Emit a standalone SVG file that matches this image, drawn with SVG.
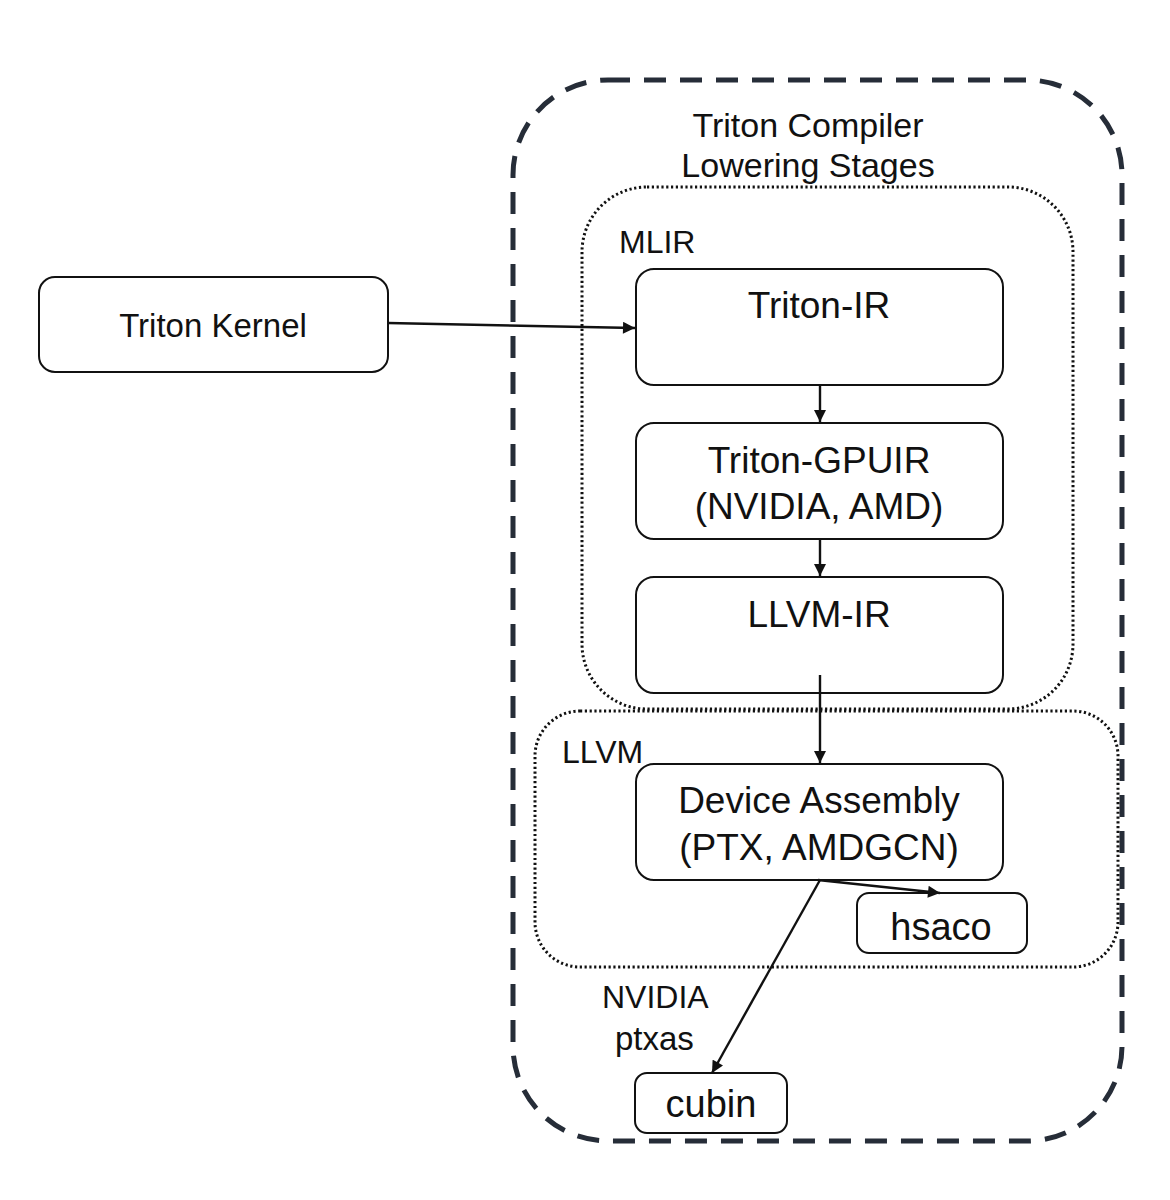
<svg xmlns="http://www.w3.org/2000/svg" width="1170" height="1200" viewBox="0 0 1170 1200">
<defs>
<style>
.box{fill:#fff;stroke:#111;stroke-width:2}
.t{font-family:"Liberation Sans",Arial,sans-serif;fill:#111;text-anchor:middle}
.l{font-family:"Liberation Sans",Arial,sans-serif;fill:#111}
.outer{fill:none;stroke:#262d38;stroke-width:5;stroke-dasharray:22 14}
.dot{fill:none;stroke:#111;stroke-width:3;stroke-dasharray:2.2 2.6}
.c{fill:none;stroke:#111;stroke-width:2.4}
</style>
<marker id="ah" viewBox="0 0 10 10" refX="10" refY="5" markerWidth="13" markerHeight="12" markerUnits="userSpaceOnUse" orient="auto">
<path d="M0,0 L10,5 L0,10 z" fill="#111"/>
</marker>
</defs>
<rect width="1170" height="1200" fill="#fff"/>
<g id="container-compiler">
<rect class="outer" x="513" y="80" width="609" height="1061" rx="95" ry="95"/>
<text class="t" x="808" y="137" font-size="34">Triton Compiler</text>
<text class="t" x="808" y="177" font-size="34">Lowering Stages</text>
</g>
<g id="container-mlir">
<rect class="dot" x="582" y="187" width="491" height="522" rx="65" ry="65"/>
<text class="l" x="619" y="253" font-size="32">MLIR</text>
</g>
<g id="container-llvm">
<rect class="dot" x="535" y="711" width="583" height="256" rx="45" ry="45"/>
<text class="l" x="562" y="763" font-size="32">LLVM</text>
</g>
<g id="triton-kernel">
<rect class="box" x="39" y="277" width="349" height="95" rx="16" ry="16"/>
<text class="t" x="213" y="337" font-size="33">Triton Kernel</text>
</g>
<g id="triton-ir">
<rect class="box" x="636" y="269" width="367" height="116" rx="18" ry="18"/>
<text class="t" x="819" y="318" font-size="37">Triton-IR</text>
</g>
<g id="triton-gpuir">
<rect class="box" x="636" y="423" width="367" height="116" rx="18" ry="18"/>
<text class="t" x="819" y="473" font-size="37">Triton-GPUIR</text>
<text class="t" x="819" y="519" font-size="37">(NVIDIA, AMD)</text>
</g>
<g id="llvm-ir">
<rect class="box" x="636" y="577" width="367" height="116" rx="18" ry="18"/>
<text class="t" x="819" y="627" font-size="37">LLVM-IR</text>
</g>
<g id="device-assembly">
<rect class="box" x="636" y="764" width="367" height="116" rx="18" ry="18"/>
<text class="t" x="819" y="813" font-size="37">Device Assembly</text>
<text class="t" x="819" y="860" font-size="37">(PTX, AMDGCN)</text>
</g>
<g id="hsaco">
<rect class="box" x="857" y="893" width="170" height="60" rx="12" ry="12"/>
<text class="t" x="941" y="940" font-size="38">hsaco</text>
</g>
<g id="cubin">
<rect class="box" x="635" y="1073" width="152" height="60" rx="12" ry="12"/>
<text class="t" x="711" y="1117" font-size="38">cubin</text>
</g>
<g id="label-nvidia-ptxas">
<text class="l" x="602" y="1008" font-size="32">NVIDIA</text>
<text class="l" x="615" y="1050" font-size="33">ptxas</text>
</g>
<g id="connectors">
<line class="c" x1="388" y1="323" x2="635" y2="328" marker-end="url(#ah)"/>
<line class="c" x1="820" y1="385" x2="820" y2="422" marker-end="url(#ah)"/>
<line class="c" x1="820" y1="539" x2="820" y2="576" marker-end="url(#ah)"/>
<line class="c" x1="820" y1="675" x2="820" y2="763" marker-end="url(#ah)"/>
<line class="c" x1="818" y1="880" x2="940" y2="893" marker-end="url(#ah)"/>
<line class="c" x1="820" y1="880" x2="712" y2="1073" marker-end="url(#ah)"/>
</g>
</svg>
